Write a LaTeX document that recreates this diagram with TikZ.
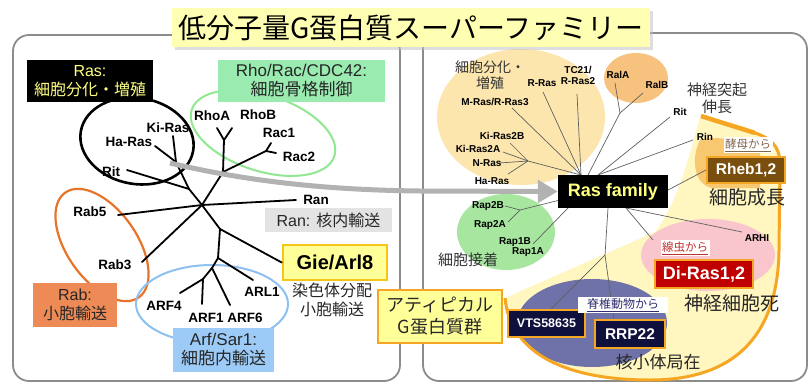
\documentclass[tikz,border=0pt]{standalone}
\usepackage{fontspec}
\setmainfont{Liberation Sans}
\newfontfamily\jp{Noto Sans CJK JP}
\usetikzlibrary{arrows.meta,shadows}
\newcommand{\myfs}[2]{\fontsize{#1}{#2}\selectfont}
\definecolor{titley}{HTML}{FFFFB3}
\definecolor{panelgray}{HTML}{8C8C8C}
\definecolor{rasy}{HTML}{FFFF80}
\definecolor{rhogreen}{HTML}{99EBB0}
\definecolor{rhoring}{HTML}{90E890}
\definecolor{rabor}{HTML}{EE8A55}
\definecolor{rabring}{HTML}{E8742A}
\definecolor{arfblue}{HTML}{9DCBF7}
\definecolor{arfring}{HTML}{8EC0F0}
\definecolor{rangray}{HTML}{E3E3E3}
\definecolor{gieyel}{HTML}{FFFF99}
\definecolor{gieborder}{HTML}{F5C518}
\definecolor{peach}{HTML}{FCE6AE}
\definecolor{ralor}{HTML}{F6C27E}
\definecolor{rapgreen}{HTML}{A6E69E}
\definecolor{paley}{HTML}{FFF6C0}
\definecolor{orangeline}{HTML}{F5A623}
\definecolor{rhebfill}{HTML}{7A4E0C}
\definecolor{rhebblob}{HTML}{F8C870}
\definecolor{pinkish}{HTML}{F8C6CC}
\definecolor{dired}{HTML}{C00000}
\definecolor{slate}{HTML}{6E72A8}
\definecolor{navybox}{HTML}{10103C}
\definecolor{yeastc}{HTML}{806850}
\definecolor{wormc}{HTML}{C03030}
\definecolor{vertc}{HTML}{303070}
\tikzset{
  tree/.style={line width=1.8pt, line cap=round},
  rtree/.style={line width=0.7pt, draw=gray!75!black},
  lab/.style={font=\bfseries\myfs{13.5}{15}, inner sep=0pt},
  slab/.style={font=\bfseries\myfs{10}{11}, inner sep=0pt, align=center},
  jtext/.style={font=\jp\myfs{16}{19}, inner sep=0pt, align=center},
  catbox/.style={inner sep=0pt, align=center},
  smallbox/.style={inner sep=0pt, align=center, draw=orangeline, line width=2pt, text=white, font=\bfseries},
}
\begin{document}
\begin{tikzpicture}[x=1pt,y=-1pt]
\useasboundingbox (0,0) rectangle (808,383);
\fill[white] (0,0) rectangle (808,383);
% panels
\draw[panelgray, line width=1.8pt, rounded corners=16pt] (13,35) rectangle (400,381);
\draw[panelgray, line width=1.8pt, rounded corners=16pt] (423,33) rectangle (807,381);

% ===== left ellipses
\draw[line width=2.6pt, rotate around={-10:(137,141)}] (137,141) ellipse [x radius=57, y radius=43];
\draw[rhoring, line width=2pt, rotate around={-18:(263,133)}] (263,133) ellipse [x radius=75, y radius=38];
\draw[rabring, line width=2.2pt, rotate around={-55:(102,245)}] (102,245) ellipse [x radius=64, y radius=35];
\draw[arfring, line width=2pt] (212,304) ellipse [x radius=76, y radius=39];

% ===== left tree
\coordinate (J0) at (202,205);
\coordinate (ranE) at (296,200);
\coordinate (rab5E) at (118,215);
\coordinate (rab3E) at (142,262);
\coordinate (JR) at (189,189);
\coordinate (ritE) at (127,170);
\coordinate (JR2) at (176,162);
\coordinate (kiE) at (173,136);
\coordinate (haE) at (155,146);
\coordinate (JRho) at (223,172);
\coordinate (JY) at (224,140);
\coordinate (rhoAE) at (217,128);
\coordinate (rhoBE) at (232,128);
\coordinate (JRac) at (266,151);
\coordinate (rac1E) at (271,143);
\coordinate (rac2E) at (276,153);
\coordinate (JL) at (220,229);
\coordinate (JA) at (218,258);
\coordinate (arl1E) at (253,280);
\coordinate (JA2) at (212,268);
\coordinate (arf6E) at (230,305);
\coordinate (JA3) at (203,279);
\coordinate (arf4E) at (180,293);
\coordinate (arf1E) at (202,304);

\draw[tree] (J0) -- (ranE);
\draw[tree] (J0) -- (rab5E);
\draw[tree] (J0) -- (rab3E);
\draw[tree] (J0) -- (JR) -- (ritE);
\draw[tree] (JR) -- (JR2) -- (kiE);
\draw[tree] (JR2) -- (haE);
\draw[tree] (J0) -- (JRho) -- (JY) -- (rhoAE);
\draw[tree] (JY) -- (rhoBE);
\draw[tree] (JRho) -- (JRac) -- (rac1E);
\draw[tree] (JRac) -- (rac2E);
\draw[tree] (J0) -- (JL) -- (JA) -- (arl1E);
\draw[tree] (JA) -- (JA2) -- (arf6E);
\draw[tree] (JA2) -- (JA3) -- (arf4E);
\draw[tree] (JA3) -- (arf1E);

% left boxes
\node[catbox, fill=black, text=rasy, minimum width=126pt, minimum height=42pt, font=\myfs{16}{19}] (rasbox) at (90,81)
  {Ras:\\\jp 細胞分化・増殖};
\node[catbox, fill=rhogreen, text=black!85, minimum width=167pt, minimum height=42pt, font=\myfs{17}{19}] (rhobox) at (301.5,81)
  {Rho/Rac/CDC42:\\\jp 細胞骨格制御};
\node[catbox, fill=rabor, text=black!85, minimum width=84pt, minimum height=44pt, font=\myfs{16}{19}] (rabbox) at (75,305)
  {Rab:\\\jp 小胞輸送};
\node[catbox, fill=arfblue, text=black!85, minimum width=101pt, minimum height=44pt, font=\myfs{17}{19}] (arfbox) at (223.5,350)
  {Arf/Sar1:\\\jp 細胞内輸送};
\node[catbox, fill=rangray, text=black!85, minimum width=127pt, minimum height=24pt, font=\myfs{16}{19}] (ranbox) at (328.5,220)
  {Ran: {\jp 核内輸送}};
\node[catbox, fill=gieyel, draw=gieborder, line width=2.5pt, minimum width=104pt, minimum height=35pt, font=\bfseries\myfs{20}{22}] (giebox) at (335,262.5) {Gie/Arl8};
\draw[tree] (JL) -- (giebox.west);
\node[jtext, text=black!85] (chrom) at (332,300) {染色体分配\\小胞輸送};

% left labels
\node[lab] (kiras) at (168,128) {Ki-Ras};
\node[lab] (haras) at (129,142) {Ha-Ras};
\node[lab] (rit) at (111,172) {Rit};
\node[lab] (rhoa) at (212,116) {RhoA};
\node[lab] (rhob) at (258,115) {RhoB};
\node[lab] (rac1) at (279,133) {Rac1};
\node[lab] (rac2) at (299,157) {Rac2};
\node[lab] (ran) at (316,200) {Ran};
\node[lab] (rab5) at (90,212) {Rab5};
\node[lab] (rab3) at (115,265) {Rab3};
\node[lab] (arf4) at (164,306) {ARF4};
\node[lab] (arf1) at (206,318) {ARF1};
\node[lab] (arf6) at (245,318) {ARF6};
\node[lab] (arl1) at (262,292) {ARL1};

% ===== right backgrounds
\fill[peach] (521,117) ellipse [x radius=84, y radius=68];
\fill[ralor] (636,78) ellipse [x radius=32, y radius=25];
\fill[rapgreen] (506,232) ellipse [x radius=49, y radius=38];
\fill[paley] (700,118) .. controls (690,150) and (680,200) .. (655,232) -- (505,298)
  .. controls (510,350) and (560,380) .. (650,380) .. controls (740,380) and (778,330) .. (779,250)
  -- (780,165) .. controls (780,140) and (760,125) .. (700,118) -- cycle;
\fill[rhebblob] (700,140) .. controls (690,160) and (695,185) .. (712,188) -- (760,188) -- (760,150) .. controls (740,140) and (715,135) .. (700,140) -- cycle;
\fill[pinkish] (708,255) ellipse [x radius=67, y radius=36];
\fill[slate] (592,323) ellipse [x radius=75, y radius=44];
\draw[orangeline, line width=3pt] (505,298)
  .. controls (510,350) and (560,380) .. (650,380) .. controls (740,380) and (778,330) .. (779,250)
  -- (780,165) .. controls (780,145) and (770,138) .. (755,133);
\draw[orangeline, line width=4.5pt] (701,116) -- (755,133);

% ===== right tree
\coordinate (r0) at (581,175);
\coordinate (r1) at (588,175);
\coordinate (r2) at (598,175);
\coordinate (mrasE) at (512,108);
\coordinate (rrasE) at (543,92);
\coordinate (tcE) at (577,94);
\coordinate (KiJ) at (528,161);
\coordinate (ki2bE) at (510,143);
\coordinate (ki2aE) at (503,152);
\coordinate (nrasE) at (499,163);
\coordinate (hrasE) at (508,174);
\coordinate (RalJ) at (620,113);
\coordinate (ralaE) at (615,83);
\coordinate (ralbE) at (643,93);
\coordinate (ritE2) at (670,117);
\coordinate (rinE) at (693,140);
\coordinate (rb0) at (626,208);
\coordinate (arhiE) at (742,232);
\coordinate (diE) at (653,240);
\coordinate (rl0) at (560,200);
\coordinate (Rap2J) at (520,210);
\coordinate (rap2bE) at (505,206);
\coordinate (rap2aE) at (508,222);
\coordinate (rl1) at (568,208);
\coordinate (rap1E) at (533,244);
\coordinate (rbot) at (608,208);
\coordinate (BJ) at (605,255);
\coordinate (vtsE) at (550,310);
\coordinate (rrpE) at (614,320);

\draw[rtree] (r0) -- (mrasE);
\draw[rtree] (r0) -- (rrasE);
\draw[rtree] (r0) -- (tcE);
\draw[rtree] (r0) -- (KiJ) -- (ki2bE);
\draw[rtree] (KiJ) -- (ki2aE);
\draw[rtree] (KiJ) -- (nrasE);
\draw[rtree] (KiJ) -- (hrasE);
\draw[rtree] (r1) -- (RalJ) -- (ralaE);
\draw[rtree] (RalJ) -- (ralbE);
\draw[rtree] (r2) -- (ritE2);
\draw[rtree] (r2) -- (rinE);
\draw[rtree] (rb0) -- (arhiE);
\draw[rtree] (rb0) -- (diE);
\draw[rtree] (rl0) -- (Rap2J) -- (rap2bE);
\draw[rtree] (Rap2J) -- (rap2aE);
\draw[rtree] (rl1) -- (rap1E);
\draw[rtree] (rbot) -- (BJ) -- (vtsE);
\draw[rtree] (BJ) -- (rrpE);

% right boxes
\node[catbox, fill=black, text=rasy, minimum width=110pt, minimum height=33pt, font=\bfseries\myfs{18}{20}] (rasfam) at (613,191.5) {Ras family};
\node[smallbox, fill=rhebfill, minimum width=78pt, minimum height=26pt, font=\bfseries\myfs{15.5}{17}] (rheb) at (746,170) {Rheb1,2};
\coordinate (rfE) at (668,190);
\draw[rtree] (rfE) -- (rheb.west);
\node[smallbox, fill=dired, minimum width=98pt, minimum height=28pt, font=\bfseries\myfs{18}{20}] (diras) at (704,274) {Di-Ras1,2};
\node[smallbox, fill=navybox, minimum width=77pt, minimum height=27pt, font=\bfseries\myfs{12.5}{14}] (vts) at (546.5,323.5) {VTS58635};
\node[smallbox, fill=navybox, minimum width=70pt, minimum height=28pt, font=\bfseries\myfs{15.5}{17}] (rrp) at (630,334) {RRP22};
\node[catbox, fill=gieyel, draw=orangeline, line width=2.5pt, minimum width=124pt, minimum height=53pt, font=\jp\myfs{18}{22}, text=black!85] (atyp) at (440,316.5) {アティピカル\\G蛋白質群};

% right labels
\node[jtext, font=\jp\myfs{14}{16}, text=black!80] (prolif) at (490,75) {細胞分化・\\増殖};
\node[slab] (rras) at (542,83) {R-Ras};
\node[slab] (tc21) at (578,75) {TC21/\\R-Ras2};
\node[slab] (mras) at (495,102) {M-Ras/R-Ras3};
\node[slab] (ki2b) at (502,136) {Ki-Ras2B};
\node[slab] (ki2a) at (478,149) {Ki-Ras2A};
\node[slab] (nras) at (487,163) {N-Ras};
\node[slab] (hras) at (492,181) {Ha-Ras};
\node[slab] (rala) at (618,75) {RalA};
\node[slab] (ralb) at (657,85) {RalB};
\node[slab] (rit2) at (680,112) {Rit};
\node[slab] (rin) at (705,137) {Rin};
\node[jtext, font=\jp\myfs{15}{17}, text=black!80] (neurite) at (717,98) {神経突起\\伸長};
\node[fill=white, inner sep=1.5pt, font=\jp\myfs{11.5}{13}, text=yeastc] (yeast) at (748,145) {\underline{酵母から}};
\node[jtext, font=\jp\myfs{19}{21}, text=black!85] (growth) at (747,197) {細胞成長};
\node[slab] (arhi) at (757,238) {ARHI};
\node[fill=white, inner sep=1.5pt, font=\jp\myfs{11.5}{13}, text=wormc] (worm) at (685,248) {\underline{線虫から}};
\node[jtext, font=\jp\myfs{19}{21}, text=black!85] (death) at (732,303) {神経細胞死};
\node[slab] (rap2b) at (488,206) {Rap2B};
\node[slab] (rap2a) at (490,225) {Rap2A};
\node[slab] (rap1b) at (515,242) {Rap1B};
\node[slab] (rap1a) at (528,252) {Rap1A};
\node[jtext, font=\jp\myfs{15}{17}, text=black!80] (adh) at (468,260) {細胞接着};
\node[fill=white, inner sep=0pt, minimum width=90pt, minimum height=16pt, font=\jp\myfs{12}{13}, text=vertc] (vert) at (623,305) {\underline{脊椎動物から}};
\node[jtext, font=\jp\myfs{17}{19}, text=black!85] (nucleolus) at (658,362) {核小体局在};

% gray arrow
\coordinate (arS) at (170,163);
\draw[gray!60, line width=5pt, -{Triangle[length=20pt,width=22pt]}] (arS) .. controls (250,182) and (330,190) .. (420,191) -- (rasfam.west);

% title
\node[fill=titley, minimum width=478pt, minimum height=39pt, inner sep=0pt, font=\jp\myfs{28}{30},
  drop shadow={shadow xshift=3pt, shadow yshift=-3pt, fill=gray!50}] (title) at (411,27.5)
  {低分子量G蛋白質スーパーファミリー};
\end{tikzpicture}
\end{document}
